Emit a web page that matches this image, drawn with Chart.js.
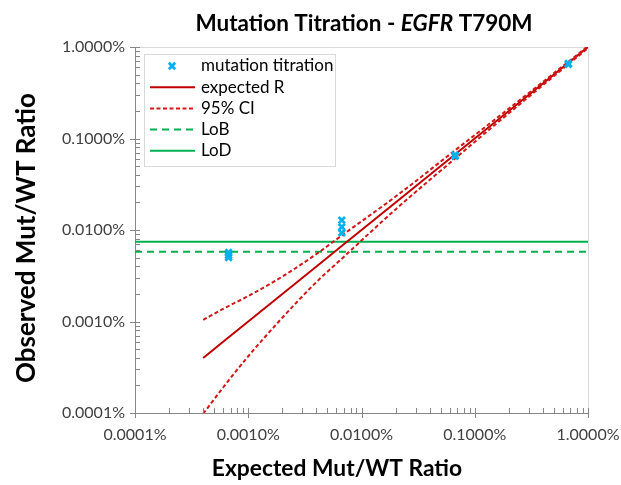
<!DOCTYPE html>
<html>
<head>
<meta charset="utf-8">
<title>Mutation Titration - EGFR T790M</title>
<script src="https://cdn.jsdelivr.net/npm/chart.js@4.4.1/dist/chart.umd.min.js"></script>
<style>
  html, body { margin: 0; padding: 0; background: #ffffff; }
  #wrap { width: 621px; height: 485px; position: relative; }
</style>
</head>
<body>
<div id="wrap"><canvas id="chart" width="621" height="485"></canvas></div>
<script>
// All ratios are mutant / wild-type, expressed in percent.
const titrationExpected = [0.00067, 0.00067, 0.00067, 0.0067, 0.0067, 0.0067, 0.067, 0.067, 0.67, 0.67];
const titrationObserved = [0.0057, 0.0053, 0.0050, 0.0128, 0.0108, 0.0093, 0.064, 0.066, 0.645, 0.66];

// Expected-ratio grid for the reference line and its 95% confidence band.
const curveX    = [0.0004, 0.0006, 0.001, 0.002, 0.004, 0.0066, 0.02, 0.066, 0.2, 0.66, 1];
const expectedR = [0.0004, 0.0006, 0.001, 0.002, 0.004, 0.0066, 0.02, 0.066, 0.2, 0.66, 1];
const ciUpper   = [0.00104, 0.001375, 0.0019, 0.0031, 0.00546, 0.0086, 0.0232, 0.0732, 0.212, 0.679, 1.023];
const ciLower   = [0.0000982, 0.00019, 0.000417, 0.0011, 0.0027, 0.00478, 0.0168, 0.0595, 0.1888, 0.6376, 0.973];

// Limit of blank and limit of detection.
const lobValue = 0.00578;
const lodValue = 0.00744;

// Axis range and labelled decades.
const axisMin = 0.0001;
const axisMax = 1;
const decadeTicks = [0.0001, 0.001, 0.01, 0.1, 1];

const FONT = 'Lato, "Open Sans", sans-serif';
const RED = '#C00000';
const GREEN = '#00B050';
const CYAN = '#00B0F0';

const pairs = (xs, ys) => xs.map((x, i) => ({ x: x, y: ys[i] }));

const datasets = [
  {
    label: 'mutation titration',
    data: pairs(titrationExpected, titrationObserved),
    showLine: false,
    pointStyle: 'crossRot',
    pointRadius: 4.5,
    pointBorderWidth: 2.8,
    borderColor: CYAN,
    backgroundColor: CYAN,
    order: 0
  },
  {
    label: 'expected R',
    data: pairs(curveX, expectedR),
    showLine: true,
    pointRadius: 0,
    borderColor: RED,
    borderWidth: 2,
    order: 2
  },
  {
    label: '95% CI',
    data: pairs(curveX, ciUpper),
    showLine: true,
    pointRadius: 0,
    borderColor: '#D01818',
    borderWidth: 2,
    borderDash: [4, 2.5],
    cubicInterpolationMode: 'monotone',
    order: 1
  },
  {
    label: '95% CI',
    data: pairs(curveX, ciLower),
    showLine: true,
    pointRadius: 0,
    borderColor: '#D01818',
    borderWidth: 2,
    borderDash: [4, 2.5],
    cubicInterpolationMode: 'monotone',
    order: 1,
    hideInLegend: true
  },
  {
    label: 'LoB',
    data: [{ x: axisMin, y: lobValue }, { x: axisMax, y: lobValue }],
    showLine: true,
    pointRadius: 0,
    borderColor: GREEN,
    borderWidth: 2,
    borderDash: [7, 5],
    order: 3
  },
  {
    label: 'LoD',
    data: [{ x: axisMin, y: lodValue }, { x: axisMax, y: lodValue }],
    showLine: true,
    pointRadius: 0,
    borderColor: GREEN,
    borderWidth: 2,
    order: 3
  }
];

const pctLabel = v => Number(v).toFixed(4) + '%';

function decadeOnly(scale) {
  scale.ticks = decadeTicks.map(v => ({ value: v, major: true }));
}

// Frame, log tick marks, titles and the boxed legend.
const decorations = {
  id: 'decorations',
  beforeDatasetsDraw(chart) {
    const { ctx, chartArea: a } = chart;
    ctx.save();
    ctx.strokeStyle = '#D9D9D9';
    ctx.lineWidth = 1;
    ctx.beginPath();
    ctx.moveTo(a.left, a.top + 0.5);
    ctx.lineTo(a.right + 0.5, a.top + 0.5);
    ctx.lineTo(a.right + 0.5, a.bottom);
    ctx.stroke();
    ctx.restore();
  },
  afterDraw(chart) {
    const { ctx, chartArea: a, scales } = chart;
    const xs = scales.x, ys = scales.y;
    ctx.save();
    ctx.strokeStyle = '#868686';
    ctx.lineWidth = 1;
    ctx.beginPath();
    for (let d = axisMin; d < axisMax * 1.0001; d *= 10) {
      const xp = Math.round(xs.getPixelForValue(d)) + 0.5;
      const yp = Math.round(ys.getPixelForValue(d)) + 0.5;
      ctx.moveTo(xp, a.bottom - 5); ctx.lineTo(xp, a.bottom + 5);
      ctx.moveTo(a.left - 5, yp); ctx.lineTo(a.left + 5, yp);
      if (d < axisMax / 2) {
        for (let m = 2; m <= 9; m++) {
          const mx = Math.round(xs.getPixelForValue(d * m)) + 0.5;
          const my = Math.round(ys.getPixelForValue(d * m)) + 0.5;
          ctx.moveTo(mx, a.bottom - 5); ctx.lineTo(mx, a.bottom);
          ctx.moveTo(a.left, my); ctx.lineTo(a.left + 5, my);
        }
      }
    }
    ctx.stroke();

    // Chart title with the italic gene name
    const parts = [
      ['Mutation Titration - ', 'bold 22.5px ' + FONT],
      ['EGFR', 'italic bold 22.5px ' + FONT],
      [' T790M', 'bold 22.5px ' + FONT]
    ];
    let total = 0;
    parts.forEach(p => { ctx.font = p[1]; total += ctx.measureText(p[0]).width; });
    let tx = 364 - total / 2;
    ctx.fillStyle = '#000000';
    ctx.textBaseline = 'middle';
    ctx.textAlign = 'left';
    parts.forEach(p => { ctx.font = p[1]; ctx.fillText(p[0], tx, 24); tx += ctx.measureText(p[0]).width; });

    // Axis titles
    ctx.font = 'bold 22.8px ' + FONT;
    ctx.textAlign = 'center';
    ctx.fillText('Expected Mut/WT Ratio', 337, 469);
    ctx.save();
    ctx.translate(27, 238);
    ctx.rotate(-Math.PI / 2);
    ctx.font = 'bold 26px ' + FONT;
    ctx.fillText('Observed Mut/WT Ratio', 0, 0);
    ctx.restore();

    // Legend
    const box = { x: 144.5, y: 54.5, w: 191, h: 112 };
    ctx.fillStyle = '#FFFFFF';
    ctx.fillRect(box.x, box.y, box.w, box.h);
    ctx.strokeStyle = '#D9D9D9';
    ctx.strokeRect(box.x, box.y, box.w, box.h);
    ctx.font = '17px ' + FONT;
    ctx.textAlign = 'left';
    ctx.textBaseline = 'middle';
    let row = 0;
    chart.data.datasets.forEach(ds => {
      if (ds.hideInLegend) return;
      const y = 66 + row * 21.2;
      if (ds.showLine) {
        ctx.save();
        ctx.strokeStyle = ds.borderColor;
        ctx.lineWidth = ds.borderWidth;
        ctx.setLineDash(ds.borderDash || []);
        ctx.beginPath();
        ctx.moveTo(150, y); ctx.lineTo(195, y);
        ctx.stroke();
        ctx.restore();
      } else {
        ctx.save();
        ctx.strokeStyle = ds.borderColor;
        ctx.lineWidth = ds.pointBorderWidth;
        const r = 3.2;
        ctx.beginPath();
        ctx.moveTo(172 - r, y - r); ctx.lineTo(172 + r, y + r);
        ctx.moveTo(172 - r, y + r); ctx.lineTo(172 + r, y - r);
        ctx.stroke();
        ctx.restore();
      }
      ctx.fillStyle = '#000000';
      ctx.fillText(ds.label, 201, y);
      row++;
    });
    ctx.restore();
  }
};

new Chart(document.getElementById('chart'), {
  type: 'scatter',
  data: { datasets: datasets },
  options: {
    responsive: false,
    animation: false,
    devicePixelRatio: 1,
    layout: { padding: { left: 0, top: 47, right: 33, bottom: 0 } },
    plugins: {
      legend: { display: false },
      title: { display: false },
      tooltip: { enabled: false }
    },
    scales: {
      x: {
        type: 'logarithmic',
        min: axisMin,
        max: axisMax,
        afterBuildTicks: decadeOnly,
        afterFit(scale) { scale.height = 72; scale.paddingLeft = 0; scale.paddingRight = 0; },
        grid: { display: false, drawTicks: false },
        border: { display: true, color: '#868686', width: 1 },
        ticks: {
          autoSkip: false,
          maxRotation: 0,
          padding: 12,
          color: '#404040',
          font: { family: FONT, size: 16 },
          callback: pctLabel
        }
      },
      y: {
        type: 'logarithmic',
        min: axisMin,
        max: axisMax,
        afterBuildTicks: decadeOnly,
        afterFit(scale) { scale.width = 135; scale.paddingTop = 0; scale.paddingBottom = 0; },
        grid: { display: false, drawTicks: false },
        border: { display: true, color: '#868686', width: 1 },
        ticks: {
          autoSkip: false,
          padding: 10,
          color: '#404040',
          font: { family: FONT, size: 16 },
          callback: pctLabel
        }
      }
    }
  },
  plugins: [decorations]
});
</script>
</body>
</html>
